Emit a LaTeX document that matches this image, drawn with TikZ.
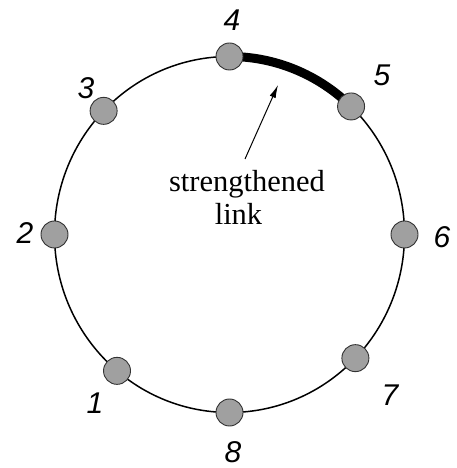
\documentclass[tikz,border=0pt]{standalone}
\usepackage{fontspec}
\setmainfont{Liberation Serif}
\newfontfamily\labelfont{Liberation Sans}
\usetikzlibrary{arrows.meta,backgrounds}
\definecolor{nodegray}{RGB}{160,160,160}
\tikzset{
  ringnode/.style={circle,draw=black!80,line width=0.9pt,fill=nodegray,minimum size=27pt,inner sep=0pt},
  numlabel/.style={font=\labelfont\itshape\fontsize{30}{30}\selectfont,inner sep=0pt},
  ring/.style={line width=1.5pt},
  strong/.style={line width=9pt},
  pointer/.style={line width=1pt,-{Latex[length=13pt,width=6.5pt]}},
  caption/.style={font=\fontsize{30.5}{33}\selectfont,inner sep=0pt,anchor=base}
}
\begin{document}
\begin{tikzpicture}[x=1pt,y=1pt]
\useasboundingbox (0,0) rectangle (456,468);
\begin{scope}[shift={(229.5,233.5)}]
  \node[ringnode] (n4) at (90:175 and 178) {};
  \node[ringnode] (n5) at (46:175 and 178) {};
  \node[ringnode] (n3) at (136:175 and 178) {};
  \node[ringnode] (n2) at (180:175 and 178) {};
  \node[ringnode] (n6) at (0:175 and 178) {};
  \node[ringnode] (n1) at (-130:175 and 178) {};
  \node[ringnode] (n7) at (-44:175 and 178) {};
  \node[ringnode] (n8) at (-90:175 and 178) {};
  \begin{scope}[on background layer]
    \draw[ring] (0,0) ellipse [x radius=175, y radius=178];
    \draw[strong] (n4.center) arc[start angle=90, end angle=46, x radius=175, y radius=178];
  \end{scope}
\end{scope}
\node[numlabel] (l4) at (232,448) {4};
\node[numlabel] (l5) at (382,393) {5};
\node[numlabel] (l3) at (86,380) {3};
\node[numlabel] (l2) at (25,235) {2};
\node[numlabel] (l6) at (442,231) {6};
\node[numlabel] (l1) at (95,65) {1};
\node[numlabel] (l7) at (390,73) {7};
\node[numlabel] (l8) at (233,15.5) {8};
\node[caption] (t1) at (247,276) {strengthened};
\node[caption] (t2) at (238.5,243) {link};
\coordinate (tail) at (245,309);
\coordinate (tip) at (278,383);
\draw[pointer] (tail) -- (tip);
\end{tikzpicture}
\end{document}
